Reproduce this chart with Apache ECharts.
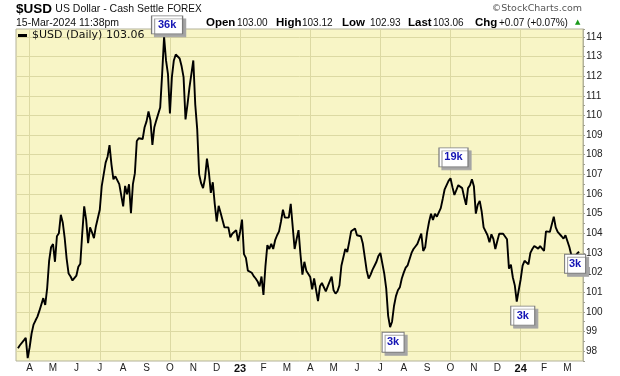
<!DOCTYPE html>
<html>
<head>
<meta charset="utf-8">
<title>$USD US Dollar - Cash Settle</title>
<script src="https://cdn.jsdelivr.net/npm/echarts@6/dist/echarts.min.js"></script>
<style>
  html, body { margin: 0; padding: 0; background: #fff; }
  #usdChart { width: 620px; height: 376px; }
</style>
</head>
<body>
<div id="usdChart"></div>
<script>
/* jshint esversion: 6 */
var fontFamily = '"Liberation Sans", Arial, sans-serif';
var legendFamily = '"DejaVu Sans", Verdana, sans-serif';
var color_plot = '#f8f5c6';
var color_grid = '#dcd9a3';
var color_border = '#b3b29a';
var color_anno = '#1414b4';

// =====================================================================================================================
// DONNEES

// points : 12 par mois
var sampleDays = [1, 3, 6, 8, 11, 13, 16, 18, 21, 23, 26, 28];
var firstDate = '2022-03-16';
var lastDate = '2024-03-15';

var usdClose = [
  98.15, 98.3, 98.4, 98.55, 98.68, 97.65,                                                  // mars 22
  98.2, 98.9, 99.35, 99.56, 99.76, 100.05, 100.15, 100.7, 100.35, 101.21, 102.6, 103.29,     // avr
  103.45, 102.55, 103.85, 104.0, 104.94, 104.55, 103.75, 102.7, 101.95, 101.8, 101.6, 101.7, // mai
  101.85, 102.3, 102.45, 104.0, 105.37, 104.7, 103.5, 104.3, 104.05, 103.75, 104.35, 104.4,  // juin
  105.2, 106.4, 107.0, 107.6, 107.9, 108.49, 107.5, 106.75, 106.9, 106.95, 106.5, 106.4,     // juil
  105.37, 106.41, 105.98, 106.5, 105.02, 106.5, 107.05, 108.7, 108.84, 108.77, 108.8, 109.4, // août
  109.7, 110.2, 109.75, 108.5, 109.4, 109.75, 109.78, 110.4, 112.1, 114.0, 112.8, 112.1,     // sept
  110.1, 111.95, 112.8, 113.1, 113.1, 112.9, 112.5, 111.95, 109.8, 110.55, 111.4, 111.3,     // oct
  112.8, 110.55, 109.3, 107.0, 106.55, 106.3, 106.8, 107.8, 107.1, 106.06, 106.6, 105.5,     // nov
  104.6, 105.4, 105.05, 105.05, 104.3, 104.4, 104.3, 103.8, 103.98, 104.02, 104.16, 103.6,   // déc
  104.07, 104.7, 102.94, 102.75, 102.1, 102.05, 101.99, 101.82, 101.7, 101.55, 101.3, 101.8, // janv 23
  100.86, 102.3, 103.4, 103.2, 103.46, 103.2, 103.65, 103.9, 104.1, 104.6, 105.2, 104.8,     // févr
  104.75, 104.8, 105.5, 105.45, 103.2, 103.7, 104.16, 102.92, 101.9, 102.55, 102.1, 102.2,   // mars
  101.78, 101.15, 101.7, 101.78, 100.55, 101.3, 101.47, 101.5, 101.04, 101.3, 101.3, 101.8,  // avr
  101.1, 100.93, 101.05, 101.35, 102.35, 102.3, 103.2, 103.05, 103.55, 104.1, 104.07, 104.24, // mai
  103.9, 103.9, 103.85, 103.48, 103.42, 102.1, 101.7, 101.9, 102.15, 102.35, 102.55, 102.85, // juin
  103.0, 102.9, 101.95, 101.2, 99.8, 99.22, 99.5, 100.3, 100.8, 101.1, 101.25, 101.7,        // juil
  102.0, 102.25, 102.37, 102.42, 103.0, 103.2, 103.33, 103.46, 103.45, 103.98, 103.1, 103.29, // août
  104.05, 104.59, 105.0, 104.68, 105.0, 104.85, 104.9, 105.28, 105.75, 106.24, 106.25, 106.67, // sept
  106.8, 106.35, 105.95, 105.9, 106.45, 106.35, 106.3, 105.85, 105.45, 106.3, 106.45, 106.75, // oct
  106.4, 105.0, 105.46, 105.65, 105.11, 104.3, 104.2, 103.9, 103.55, 103.95, 103.72, 103.2,  // nov
  103.6, 103.98, 104.07, 103.98, 104.05, 103.7, 102.2, 102.4, 101.75, 101.35, 100.52, 101.1, // déc
  101.65, 102.35, 102.6, 102.55, 102.42, 103.0, 103.2, 103.35, 103.35, 103.22, 103.35, 103.28, // janv 24
  103.1, 104.1, 104.2, 104.07, 104.1, 104.85, 104.3, 104.07, 103.98, 103.85, 103.73, 103.9,  // févr
  103.8, 103.3, 102.9, 102.65, 102.83, 102.97, 103.06                                        // mars
];

var annoDates = ['2022-09-23', '2023-10-01', '2023-07-13', '2023-12-26', '2024-03-15'];
var annoText = ['36k', '19k', '3k', '3k', '3k'];

var monthLetters = ['J', 'F', 'M', 'A', 'M', 'J', 'J', 'A', 'S', 'O', 'N', 'D'];
var quoteLabels = ['Open', 'High', 'Low', 'Last', 'Chg'];
var quoteValues = ['103.00', '103.12', '102.93', '103.06', '+0.07 (+0.07%)'];

// =====================================================================================================================
// CONSTRUCTION DES DATES

function pad(n) {
  'use strict';
  return (n < 10 ? '0' : '') + n;
}

var dates = [];
for (var y = 2022; y <= 2024; y++) {
  for (var m = 1; m <= 12; m++) {
    sampleDays.forEach(function (d) {
      var s = y + '-' + pad(m) + '-' + pad(d);
      if (s >= firstDate && s < lastDate) {
        dates.push(s);
      }
    });
  }
}
dates.push(lastDate);

// marges sans valeur avant et après la série
var axisDates = ['2022-03-13'].concat(dates, ['2024-03-18', '2024-03-20']);
var seriesData = [null].concat(usdClose);

// boîtes d'annotation : taille et décalage par rapport au point
var annoLayout = [
  {size: [31, 18], offset: [3, -12]},
  {size: [29, 19], offset: [3, -21]},
  {size: [22, 20], offset: [3, 15]},
  {size: [24, 19], offset: [6, 14]},
  {size: [21, 19], offset: [-4, 12]}
];

// =====================================================================================================================
// EN-TETE

var headerGraphics = [
  {
    type: 'text', x: 16, y: 9,
    style: {
      text: '{a|$USD} {b|US Dollar - Cash Settle} {c|FOREX}',
      verticalAlign: 'middle',
      rich: {
        a: {fontFamily: fontFamily, fontSize: 13.5, fontWeight: 'bold', fill: '#000'},
        b: {fontFamily: fontFamily, fontSize: 10.5, fill: '#111'},
        c: {fontFamily: fontFamily, fontSize: 10, fill: '#111'}
      }
    }
  },
  {
    type: 'text', x: 16, y: 23,
    style: {text: '15-Mar-2024 11:38pm', fontFamily: fontFamily, fontSize: 10.5, fill: '#111', verticalAlign: 'middle'}
  },
  {
    type: 'text', x: 582, y: 9,
    style: {text: '©StockCharts.com', fontFamily: legendFamily, fontSize: 9.5, fill: '#555', align: 'right', verticalAlign: 'middle'}
  },
  {
    type: 'text', x: 575, y: 22,
    style: {text: '▲', fontFamily: legendFamily, fontSize: 7, fill: '#1a9a1a', verticalAlign: 'middle'}
  }
];

var labelX = [206, 276, 342, 408, 475];
var valueX = [237, 302, 370, 433, 499];
quoteLabels.forEach(function (lab, i) {
  headerGraphics.push({
    type: 'text', x: labelX[i], y: 23,
    style: {text: lab, fontFamily: fontFamily, fontSize: 11.5, fontWeight: 'bold', fill: '#000', verticalAlign: 'middle'}
  });
  headerGraphics.push({
    type: 'text', x: valueX[i], y: 23,
    style: {text: quoteValues[i], fontFamily: fontFamily, fontSize: 10, fill: '#111', verticalAlign: 'middle'}
  });
});

// =====================================================================================================================
// GRAPHIQUE

var usdChart = echarts.init(document.getElementById('usdChart'), null, {renderer: 'canvas'});

var usdOption = {
  animation: false,
  backgroundColor: '#fff',
  textStyle: {fontFamily: fontFamily},
  grid: {
    left: 16, right: 37, top: 29, bottom: 15,
    show: true,
    backgroundColor: color_plot,
    borderColor: color_border,
    borderWidth: 1
  },
  legend: {
    left: 18, top: 30, padding: 0,
    icon: 'rect', itemWidth: 9, itemHeight: 3,
    selectedMode: false,
    data: ['$USD (Daily)'],
    formatter: function (name) {
      return name + ' ' + usdClose[usdClose.length - 1].toFixed(2);
    },
    textStyle: {fontFamily: legendFamily, fontSize: 11, color: '#111'}
  },
  xAxis: {
    type: 'category',
    data: axisDates,
    boundaryGap: false,
    axisLine: {show: false},
    axisTick: {show: false},
    axisLabel: {
      interval: function (i, v) {
        return v.slice(8) === '01';
      },
      formatter: function (v) {
        var mm = parseInt(v.slice(5, 7), 10);
        if (mm === 1) {
          return '{yr|' + v.slice(2, 4) + '}';
        }
        return monthLetters[mm - 1];
      },
      margin: 2,
      fontSize: 10,
      color: '#222',
      fontFamily: fontFamily,
      rich: {
        yr: {fontWeight: 'bold', fontSize: 11, color: '#111', fontFamily: fontFamily}
      }
    },
    splitLine: {
      show: true,
      interval: function (i, v) {
        var mm = parseInt(v.slice(5, 7), 10);
        return v.slice(8) === '01' && (mm - 1) % 3 === 0;
      },
      lineStyle: {color: color_grid, width: 1}
    }
  },
  yAxis: {
    type: 'value',
    position: 'right',
    min: 97.5,
    max: 114.4,
    interval: 0.5,
    axisLine: {show: true, lineStyle: {color: color_border}},
    axisTick: {show: true, length: 2, lineStyle: {color: '#a0a090'}},
    axisLabel: {
      formatter: function (v) {
        return Math.abs(v - Math.round(v)) < 1e-6 ? String(Math.round(v)) : '';
      },
      margin: 3,
      fontSize: 10,
      color: '#222',
      fontFamily: fontFamily
    },
    splitLine: {
      show: true,
      lineStyle: {color: ['transparent', color_grid], width: 1}
    }
  },
  series: [
    {
      name: '$USD (Daily)',
      type: 'line',
      data: seriesData,
      symbol: 'none',
      lineStyle: {color: '#000', width: 1.9},
      itemStyle: {color: '#000'},
      z: 3,
      markPoint: {
        silent: true,
        symbol: 'rect',
        itemStyle: {
          color: '#fff',
          borderColor: '#7a7a7a',
          borderWidth: 1,
          shadowColor: '#a5a5a5',
          shadowOffsetX: 3,
          shadowOffsetY: 3,
          shadowBlur: 0
        },
        label: {
          show: true,
          position: 'inside',
          color: color_anno,
          fontWeight: 'bold',
          fontSize: 11,
          fontFamily: fontFamily
        },
        data: annoDates.map(function (d, i) {
          return {
            coord: [d, usdClose[dates.indexOf(d)]],
            symbolSize: annoLayout[i].size,
            symbolOffset: annoLayout[i].offset,
            label: {formatter: annoText[i]}
          };
        })
      }
    }
  ],
  graphic: headerGraphics
};

usdOption && usdChart.setOption(usdOption);
</script>
</body>
</html>
